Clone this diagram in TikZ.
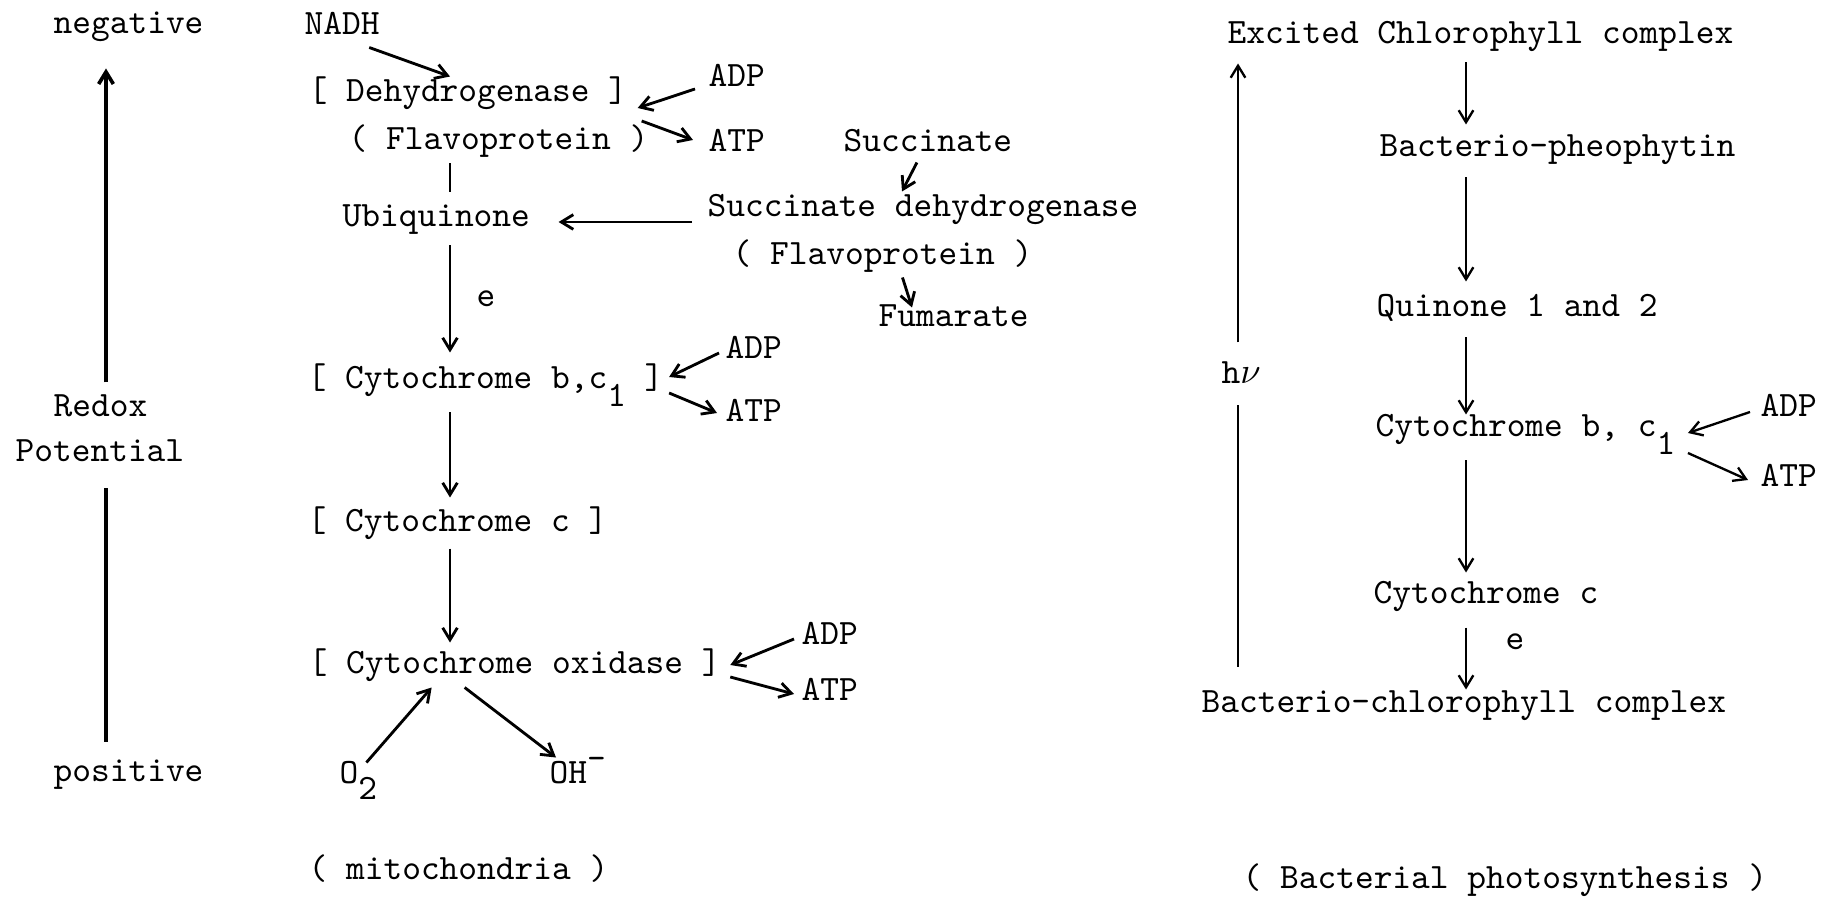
\documentclass[tikz,border=0pt]{standalone}
\usepackage{fontspec}
\usetikzlibrary{calc,arrows.meta}
\tikzset{ txt/.style = { anchor = west % typed text
        , inner sep = 0pt
        , font = \ttfamily\fontsize{10.7}{12}\selectfont\addfontfeatures{FakeBold=0.7}
        , text height = 5.8pt
        , text depth = 1.9pt
        }
        , arr/.style = { -{Straight Barb[length=3.6pt,width=4.4pt]} % arrow
        , line width = 0.85pt
        }
        , ln/.style = { line width = 0.85pt % plain line
        }
        }

\begin{document}
\begin{tikzpicture}[x=0.3pt, y=-0.3pt]
        \useasboundingbox (0,0) rectangle (1822,901);
        \coordinate (lx) at (106,0);
        \coordinate (mx) at (450,0);
        \coordinate (rx) at (1466,0);
        \coordinate (hx) at (1238,0);

        % redox scale
        \node [txt] (neg) at (53,27) {negative};
        \node [txt] (redox) at (53,410) {Redox};
        \node [txt] (pot) at (15,455) {Potential};
        \node [txt] (pos) at (53,775) {positive};
        \draw [arr, line width=1.1pt] ($(redox.north -| lx)+(0,-14)$) -- ($(neg.south -| lx)+(0,28)$);
        \draw [ln, line width=1.1pt] ($(pot.south -| lx)+(0,20)$) -- ($(pos.north -| lx)+(0,-20)$);

        % mitochondria
        \node [txt] (nadh) at (304,28) {NADH};
        \node [txt] (dehyd) at (308,95) {[ Dehydrogenase ]};
        \node [txt] (flavo) at (348,143) {( Flavoprotein )};
        \node [txt] (adp1) at (708,80) {ADP};
        \node [txt] (atp1) at (708,145) {ATP};
        \node [txt] (ubiq) at (342,220) {Ubiquinone};
        \node [txt] (succ) at (843,145) {Succinate};
        \node [txt] (sdh) at (707,210) {Succinate dehydrogenase};
        \node [txt] (sflavo) at (732,258) {( Flavoprotein )};
        \node [txt] (fum) at (878,320) {Fumarate};
        \node [txt] (e1) at (476,300) {e};
        \node [txt] (cytb) at (307,382) {[ Cytochrome b,c\raisebox{-0.5em}{1} ]};
        \node [txt] (adp2) at (725,352) {ADP};
        \node [txt] (atp2) at (725,415) {ATP};
        \node [txt] (cytc) at (307,525) {[ Cytochrome c ]};
        \node [txt] (cytox) at (308,667) {[ Cytochrome oxidase ]};
        \node [txt] (adp3) at (801,638) {ADP};
        \node [txt] (atp3) at (801,694) {ATP};
        \node [txt] (o2) at (339,777) {O\raisebox{-0.45em}{2}};
        \node [txt] (oh) at (549,777) {OH\raisebox{0.4em}{-}};
        \node [txt] (mito) at (308,873) {( mitochondria )};

        \draw [arr] ($(nadh.south east)+(-11,6)$) -- ($(dehyd.north -| mx)+(0,-5)$);
        \draw [arr] ($(adp1.west)+(-13,9)$) -- ($(dehyd.east)+(10,13)$);
        \draw [arr] ($(dehyd.east)+(14,26)$) -- ($(atp1.west)+(-15,-5)$);
        \draw [ln] ($(flavo.south -| mx)+(0,7)$) -- ($(ubiq.north -| mx)+(0,-14)$);
        \draw [arr] ($(sdh.west)+(-15,12)$) -- ($(ubiq.east)+(28,2)$);
        \draw [arr] ($(succ.south)+(-11,4)$) -- ($(sdh.north)+(-21,-5)$);
        \draw [arr] ($(sflavo.south)+(20,6)$) -- ($(fum.north west)+(34,1)$);
        \draw [arr] ($(ubiq.south -| mx)+(0,12)$) -- ($(cytb.north -| mx)+(0,-16)$);
        \draw [arr] ($(adp2.west)+(-6,1)$) -- ($(cytb.east)+(5,-5)$);
        \draw [arr] ($(cytb.east)+(5,11)$) -- ($(atp2.west)+(-8,-2)$);
        \draw [arr] ($(cytb.south -| mx)+(0,17)$) -- ($(cytc.north -| mx)+(0,-14)$);
        \draw [arr] ($(cytc.south -| mx)+(0,10)$) -- ($(cytox.north -| mx)+(0,-11)$);
        \draw [arr] ($(adp3.west)+(-7,1)$) -- ($(cytox.east)+(9,-2)$);
        \draw [arr] ($(cytox.east)+(9,10)$) -- ($(atp3.west)+(-7,0)$);
        \draw [arr] ($(o2.north)+(8,-1)$) -- ($(cytox.south)+(-83,7)$);
        \draw [arr] ($(cytox.south)+(-50,7)$) -- ($(oh.north west)+(7,-6)$);

        % bacterial photosynthesis
        \node [txt] (exc) at (1227,37) {Excited Chlorophyll complex};
        \node [txt] (bph) at (1379,150) {Bacterio-pheophytin};
        \node [txt] (quin) at (1376,310) {Quinone 1 and 2};
        \node [txt] (rcytb) at (1375,430) {Cytochrome b, c\raisebox{-0.5em}{1}};
        \node [txt] (radp) at (1760,410) {ADP};
        \node [txt] (ratp) at (1760,480) {ATP};
        \node [txt] (rcytc) at (1373,597) {Cytochrome c};
        \node [txt] (e2) at (1505,643) {e};
        \node [txt] (bchl) at (1201,706) {Bacterio-chlorophyll complex};
        \node [txt] (hv) at (1221,377) {h$\nu$};
        \node [txt] (photo) at (1242,882) {( Bacterial photosynthesis )};

        \draw [arr, line width=0.7pt] ($(exc.south -| rx)+(0,12)$) -- ($(bph.north -| rx)+(0,-12)$);
        \draw [arr, line width=0.7pt] ($(bph.south -| rx)+(0,14)$) -- ($(quin.north -| rx)+(0,-15)$);
        \draw [arr, line width=0.7pt] ($(quin.south -| rx)+(0,14)$) -- ($(rcytb.north -| rx)+(0,-2)$);
        \draw [arr, line width=0.7pt] ($(rcytb.south -| rx)+(0,17)$) -- ($(rcytc.north -| rx)+(0,-11)$);
        \draw [arr, line width=0.7pt] ($(rcytc.south -| rx)+(0,17)$) -- ($(bchl.north -| rx)+(0,-3)$);
        \draw [arr, line width=0.7pt] ($(radp.west)+(-10,2)$) -- ($(rcytb.east)+(12,3)$);
        \draw [arr, line width=0.7pt] ($(rcytb.east)+(12,23)$) -- ($(ratp.west)+(-12,0)$);
        \draw [arr, line width=0.7pt] ($(hv.north -| hx)+(0,-21)$) -- ($(exc.south -| hx)+(0,13)$);
        \draw [ln, line width=0.7pt] ($(hv.south -| hx)+(0,15)$) -- ($(bchl.north -| hx)+(0,-26)$);
\end{tikzpicture}
\end{document}
